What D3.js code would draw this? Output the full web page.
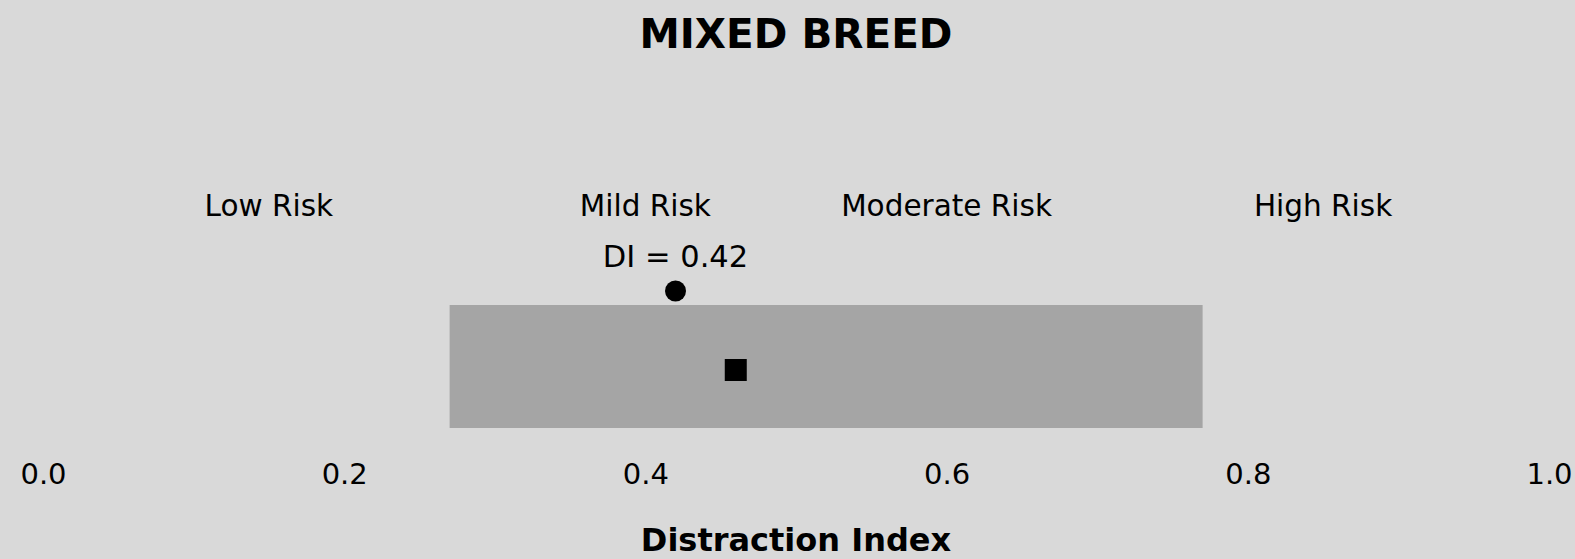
<!DOCTYPE html>
<html>
<head>
<meta charset="utf-8">
<script src="https://cdn.jsdelivr.net/npm/d3@7"></script>
<style>
  html, body { margin: 0; padding: 0; background: #d9d9d9; }
  svg { display: block; font-family: "DejaVu Sans", Verdana, sans-serif; }
</style>
</head>
<body>
<svg width="1575" height="559"></svg>
<script>
// chart values
var breed = "MIXED BREED";
var axisTitle = "Distraction Index";
var tickValues = [0, 0.2, 0.4, 0.6, 0.8, 1.0];
var riskLabels = ["Low Risk", "Mild Risk", "Moderate Risk", "High Risk"];
var riskCenters = [0.15, 0.40, 0.60, 0.85];
var rangeBar = [0.27, 0.77];   // grey range
var medianValue = [0.46];      // black square
var diValue = [0.42];          // black dot

var width = 1575;
var height = 559;
var svg = d3.select("svg");

// background
svg.append("rect")
  .attr("width", width)
  .attr("height", height)
  .attr("fill", "#d9d9d9");

var xScale = d3.scaleLinear()
  .domain([0, 1])
  .range([43, 1549]);

// title
svg.append("text")
  .attr("x", xScale(0.5))
  .attr("y", 48)
  .attr("text-anchor", "middle")
  .style("font-size", "40.5px")
  .style("font-weight", "bold")
  .text(breed);

// risk zone labels
svg.selectAll("text.risk")
  .data(riskLabels)
  .enter()
  .append("text")
  .attr("class", "risk")
  .attr("x", function (d, i) { return xScale(riskCenters[i]); })
  .attr("y", 216)
  .attr("text-anchor", "middle")
  .style("font-size", "29.5px")
  .text(function (d) { return d; });

// grey range bar
svg.selectAll("rect.range")
  .data([rangeBar])
  .enter()
  .append("rect")
  .attr("class", "range")
  .attr("x", function (d) { return xScale(d[0]); })
  .attr("y", 305)
  .attr("width", function (d) { return xScale(d[1]) - xScale(d[0]); })
  .attr("height", 123)
  .attr("fill", "#a5a5a5");

// median square
svg.selectAll("rect.median")
  .data(medianValue)
  .enter()
  .append("rect")
  .attr("class", "median")
  .attr("x", function (d) { return xScale(d) - 11; })
  .attr("y", 359)
  .attr("width", 22)
  .attr("height", 22)
  .attr("fill", "#000");

// DI dot and label
svg.selectAll("circle.di")
  .data(diValue)
  .enter()
  .append("circle")
  .attr("class", "di")
  .attr("cx", function (d) { return xScale(d); })
  .attr("cy", 291)
  .attr("r", 10.5)
  .attr("fill", "#000");

svg.selectAll("text.di")
  .data(diValue)
  .enter()
  .append("text")
  .attr("class", "di")
  .attr("x", function (d) { return xScale(d); })
  .attr("y", 267)
  .attr("text-anchor", "middle")
  .style("font-size", "30.5px")
  .text(function (d) { return "DI = " + d3.format(".2f")(d); });

// x axis, labels only
var xAxis = d3.axisBottom(xScale)
  .tickValues(tickValues)
  .tickSize(0)
  .tickPadding(8)
  .tickFormat(d3.format(".1f"));

var axisG = svg.append("g")
  .attr("transform", "translate(0,455)")
  .call(xAxis);
axisG.select(".domain").remove();
axisG.selectAll("text")
  .style("font-size", "29px")
  .style("font-family", "DejaVu Sans, Verdana, sans-serif")
  .attr("fill", "#000");

// axis title
svg.append("text")
  .attr("x", xScale(0.5))
  .attr("y", 551)
  .attr("text-anchor", "middle")
  .style("font-size", "32px")
  .style("font-weight", "bold")
  .text(axisTitle);
</script>
</body>
</html>
